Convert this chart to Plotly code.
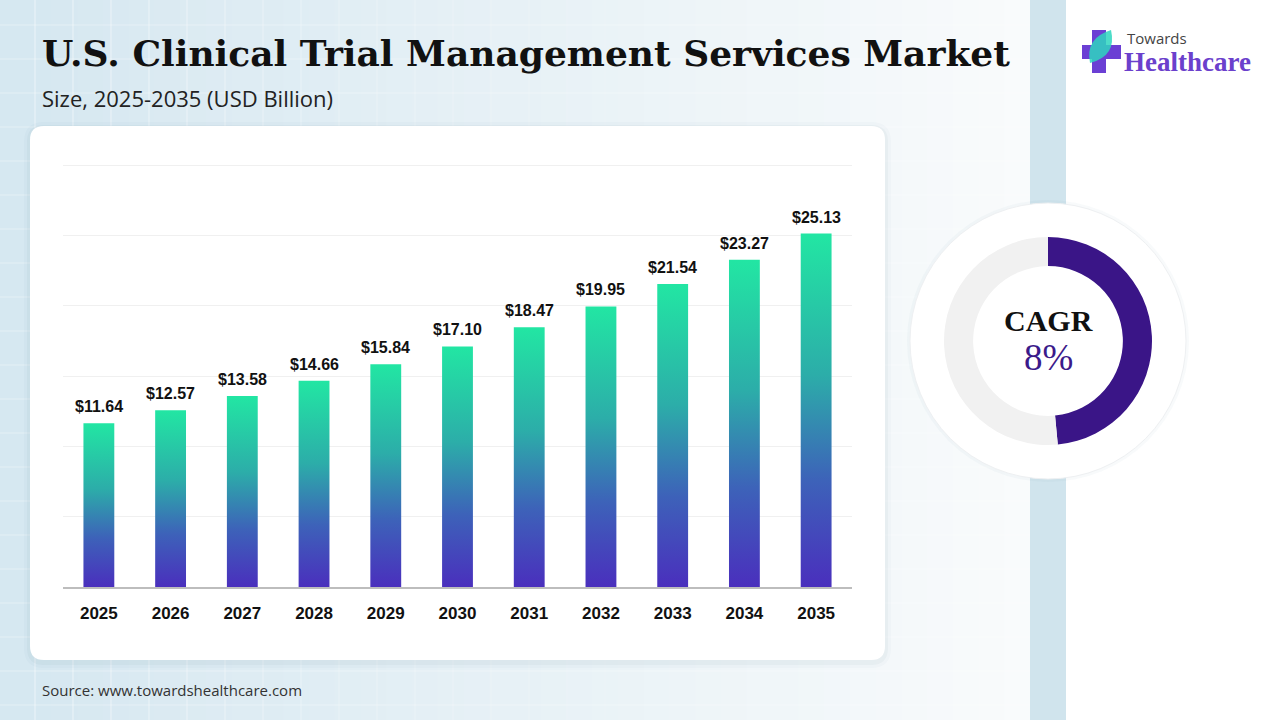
import plotly.graph_objects as go

years = [2025, 2026, 2027, 2028, 2029, 2030, 2031, 2032, 2033, 2034, 2035]
market_size = [11.64, 12.57, 13.58, 14.66, 15.84, 17.10, 18.47, 19.95, 21.54, 23.27, 25.13]
cagr_label = "8%"
ring_share = [48.5, 51.5]   # purple arc vs grey rest of the ring

W, H = 1280, 720
def px(x):
    return x / W
def py(y):
    return 1 - y / H

bar_scale = [[0, "#4a2fbd"], [0.3, "#3d62b9"], [0.6, "#2cada9"], [1, "#22e6a3"]]
bar_w = 0.43

fig = go.Figure()

# gradient filled bars
for i, v in enumerate(market_size):
    fig.add_trace(go.Scatter(
        x=[i - bar_w / 2, i + bar_w / 2, i + bar_w / 2, i - bar_w / 2, i - bar_w / 2],
        y=[0, 0, v, v, 0],
        mode="lines", line=dict(width=0),
        fill="toself",
        fillgradient=dict(type="vertical", colorscale=bar_scale, start=0, stop=v),
        hovertemplate=f"{years[i]}: ${v:.2f}B<extra></extra>",
    ))

# CAGR ring
fig.add_trace(go.Pie(
    values=ring_share, hole=0.72, sort=False, direction="clockwise",
    marker=dict(colors=["#3a1587", "#f1f1f1"], line=dict(width=0)),
    textinfo="none", hoverinfo="skip",
    domain=dict(x=[px(944), px(1152)], y=[py(445), py(237)]),
))

shapes = []
# background gradient (light blue on the left to almost white)
n = 40
c0, c1 = (214, 232, 241), (249, 251, 252)
for k in range(n):
    t = k / (n - 1)
    col = tuple(int(c0[j] + (c1[j] - c0[j]) * t) for j in range(3))
    shapes.append(dict(type="rect", xref="paper", yref="paper", layer="below",
                       x0=px(1030 * k / n), x1=px(1030 * (k + 1) / n + 1), y0=0, y1=1,
                       fillcolor="rgb(%d,%d,%d)" % col, line=dict(width=0)))
# faint background grid
for gx in range(35, 1030, 38):
    a = max(0.0, 0.5 - gx / 1500)
    shapes.append(dict(type="line", xref="paper", yref="paper", layer="below",
                       x0=px(gx), x1=px(gx), y0=0, y1=1,
                       line=dict(color=f"rgba(255,255,255,{a:.2f})", width=1.2)))
for gy in range(25, 720, 34):
    shapes.append(dict(type="line", xref="paper", yref="paper", layer="below",
                       x0=0, x1=px(1030), y0=py(gy), y1=py(gy),
                       line=dict(color="rgba(255,255,255,0.35)", width=1.2)))
# light stripe and white right panel
shapes.append(dict(type="rect", xref="paper", yref="paper", layer="below",
                   x0=px(1030), x1=px(1066), y0=0, y1=1,
                   fillcolor="#d0e4ed", line=dict(width=0)))
shapes.append(dict(type="rect", xref="paper", yref="paper", layer="below",
                   x0=px(1066), x1=1, y0=0, y1=1,
                   fillcolor="#ffffff", line=dict(width=0)))

def rounded(x0, y0, x1, y1, r):
    X0, X1 = px(x0), px(x1)
    Y0, Y1 = py(y0), py(y1)
    rx, ry = r / W, r / H
    return (f"M {X0 + rx},{Y0} L {X1 - rx},{Y0} Q {X1},{Y0} {X1},{Y0 - ry} "
            f"L {X1},{Y1 + ry} Q {X1},{Y1} {X1 - rx},{Y1} L {X0 + rx},{Y1} "
            f"Q {X0},{Y1} {X0},{Y1 + ry} L {X0},{Y0 - ry} Q {X0},{Y0} {X0 + rx},{Y0} Z")

# card shadow + card
for off, a in [(6, 0.025), (3, 0.04)]:
    shapes.append(dict(type="path", xref="paper", yref="paper", layer="below",
                       path=rounded(30 - off, 126 - off + 2, 885 + off, 660 + off + 2, 14 + off),
                       fillcolor=f"rgba(60,90,110,{a})", line=dict(width=0)))
shapes.append(dict(type="path", xref="paper", yref="paper", layer="below",
                   path=rounded(30, 126, 885, 660, 14),
                   fillcolor="#ffffff", line=dict(width=0)))

# outer circle around the ring
cx, cy, R = 1048, 341, 138
shapes.append(dict(type="circle", xref="paper", yref="paper", layer="below",
                   x0=px(cx - R - 3), x1=px(cx + R + 3), y0=py(cy + R + 3), y1=py(cy - R - 3),
                   fillcolor="rgba(120,150,170,0.05)", line=dict(width=0)))
shapes.append(dict(type="circle", xref="paper", yref="paper", layer="below",
                   x0=px(cx - R), x1=px(cx + R), y0=py(cy + R), y1=py(cy - R),
                   fillcolor="#ffffff", line=dict(color="#eef0f2", width=1)))

# logo: purple cross with teal leaf
shapes.append(dict(type="rect", xref="paper", yref="paper",
                   x0=px(1092), x1=px(1106), y0=py(73), y1=py(30),
                   fillcolor="#6b3fd4", line=dict(width=0)))
shapes.append(dict(type="rect", xref="paper", yref="paper",
                   x0=px(1082), x1=px(1121), y0=py(59), y1=py(45),
                   fillcolor="#6b3fd4", line=dict(width=0)))
shapes.append(dict(type="path", xref="paper", yref="paper",
                   path=(f"M {px(1090)},{py(63)} Q {px(1085)},{py(38)} {px(1111)},{py(30)} "
                         f"Q {px(1117)},{py(56)} {px(1090)},{py(63)} Z"),
                   fillcolor="rgba(46,214,190,0.85)", line=dict(width=0)))

annotations = [
    dict(text="<b>U.S. Clinical Trial Management Services Market</b>",
         x=px(40), y=py(53), xanchor="left", yanchor="middle",
         font=dict(family="DejaVu Serif", size=36, color="#111111")),
    dict(text="Size, 2025-2035 (USD Billion)",
         x=px(40), y=py(98), xanchor="left", yanchor="middle",
         font=dict(family="Open Sans", size=22, color="#222222")),
    dict(text="Source: www.towardshealthcare.com",
         x=px(40), y=py(690), xanchor="left", yanchor="middle",
         font=dict(family="Open Sans", size=15, color="#333333")),
    dict(text="<b>CAGR</b>", x=px(cx), y=py(320), xanchor="center", yanchor="middle",
         font=dict(family="Liberation Serif", size=30, color="#111111")),
    dict(text=cagr_label, x=px(cx), y=py(357), xanchor="center", yanchor="middle",
         font=dict(family="Liberation Serif", size=37, color="#3b1a8a")),
    dict(text="Towards", x=px(1125), y=py(38), xanchor="left", yanchor="middle",
         font=dict(family="Open Sans", size=15, color="#444444")),
    dict(text="<b>Healthcare</b>", x=px(1122), y=py(62), xanchor="left", yanchor="middle",
         font=dict(family="Liberation Serif", size=27, color="#6b40cc")),
]
for a in annotations:
    a.update(xref="paper", yref="paper", showarrow=False)

# value labels above each bar
for i, v in enumerate(market_size):
    annotations.append(dict(
        text=f"<b>${v:.2f}</b>", x=i, y=v, xref="x", yref="y",
        xanchor="center", yanchor="bottom", yshift=6, showarrow=False,
        font=dict(family="Liberation Sans, Arial", size=16, color="#111111"),
    ))

fig.update_layout(
    width=W, height=H,
    margin=dict(l=0, r=0, t=0, b=0),
    paper_bgcolor="#ffffff", plot_bgcolor="rgba(0,0,0,0)",
    showlegend=False,
    shapes=shapes, annotations=annotations,
    xaxis=dict(domain=[px(63), px(852)], range=[-0.5, len(years) - 0.5],
               tickvals=list(range(len(years))),
               ticktext=[f"<b>{y}</b>" for y in years],
               tickfont=dict(family="Liberation Sans, Arial", size=17, color="#111111"),
               ticks="outside", ticklen=10, tickcolor="rgba(0,0,0,0)",
               showgrid=False, zeroline=False,
               showline=True, linecolor="#bdbdbd", linewidth=2, fixedrange=True),
    yaxis=dict(domain=[py(587), py(158)], range=[0, 30.5], tickvals=[5, 10, 15, 20, 25, 30],
               showticklabels=False, showgrid=True, gridcolor="#f0f0f0", gridwidth=1,
               zeroline=False, showline=False, fixedrange=True),
)

fig.write_html("out.html", config={"displayModeBar": False},
               post_script="document.body.style.margin='0';")
